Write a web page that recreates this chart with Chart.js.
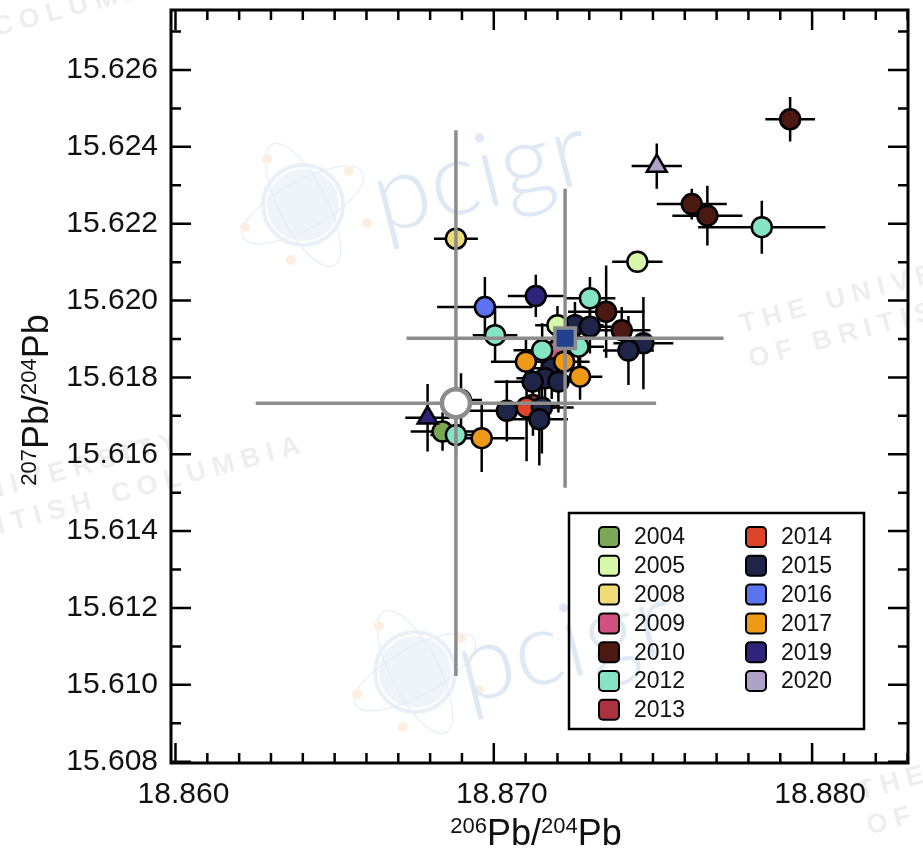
<!DOCTYPE html>
<html>
<head>
<meta charset="utf-8">
<script src="https://cdn.jsdelivr.net/npm/chart.js@4.4.1/dist/chart.umd.min.js"></script>
<style>
  html, body { margin: 0; padding: 0; background: #fff; }
  #pbChart { display: block; }
</style>
</head>
<body>
<canvas id="pbChart" width="923" height="851"></canvas>
<script>
// --- data -------------------------------------------------------------
const years = ['2004','2005','2008','2009','2010','2012','2013','2014','2015','2016','2017','2019','2020'];
const yearColors = ['#7aa856','#d6f8a8','#f0dc76','#d2507f','#4b1912','#84e4c3','#ab3340','#de4428','#1e2548','#5b73f1','#ee9a16','#2f247a','#b0a1c9'];
// bottom -> top drawing order
const stackOrder = ['2013','2009','2014','2015','2004','2010','2005','2012','2017','2016','2019','2008','2020'];

const ptYear  = ['2010','2020','2010','2010','2012','2008','2005','2016','2019','2012',
                 '2010','2005','2015','2015','2010','2012','2015','2015','2012','2012',
                 '2009','2013','2017','2017','2015','2017','2015','2015','2015','2015',
                 '2014','2015','2015','2015','2019','2004','2012','2017'];
const ptPb206 = [18.87931,18.87512,18.87622,18.87671,18.87842,18.86881,18.87451,18.86972,18.87132,18.87302,
                 18.87353,18.87200,18.87255,18.87302,18.87402,18.87004,18.87470,18.87423,18.87266,18.87152,
                 18.87189,18.87123,18.87101,18.87221,18.87182,18.87271,18.87161,18.87122,18.87203,18.87041,
                 18.87103,18.87151,18.87143,18.86897,18.86792,18.86839,18.86881,18.86962];
const ptPb207 = [15.62472,15.62350,15.62251,15.62221,15.62191,15.62161,15.62101,15.61983,15.62012,15.62006,
                 15.61971,15.61936,15.61936,15.61932,15.61923,15.61910,15.61889,15.61870,15.61880,15.61871,
                 15.61867,15.61728,15.61841,15.61841,15.61824,15.61802,15.61798,15.61789,15.61789,15.61713,
                 15.61722,15.61722,15.61691,15.61741,15.61695,15.61659,15.61650,15.61642];
const ptErr206 = [0.00078,0.00079,0.0011,0.0011,0.0020,0.00069,0.00079,0.0015,0.00088,0.0008,
                  0.0012,0.0007,0.0009,0.0009,0.0009,0.0007,0.00094,0.0008,0.0008,0.0009,
                  0.0008,0.0008,0.0011,0.0008,0.0008,0.0007,0.0009,0.0012,0.0009,0.0012,
                  0.0009,0.0010,0.0009,0.00066,0.0007,0.0010,0.0008,0.00135];
const ptErr207 = [0.00058,0.00059,0.0004,0.00078,0.00069,0.0002,0.0002,0.00078,0.00055,0.00055,
                  0.0012,0.0005,0.0006,0.0007,0.0006,0.0007,0.0012,0.0009,0.0006,0.0007,
                  0.0006,0.0008,0.0006,0.0007,0.0008,0.0006,0.0009,0.0008,0.0008,0.0008,
                  0.0014,0.0012,0.0012,0.0007,0.00088,0.0005,0.0005,0.00088];
const ptShape = ['circle','triangle','circle','circle','circle','circle','circle','circle','circle','circle',
                 'circle','circle','circle','circle','circle','circle','circle','circle','circle','circle',
                 'circle','circle','circle','circle','circle','circle','circle','circle','circle','circle',
                 'circle','circle','circle','circle','triangle','circle','circle','circle'];

// reference values (big grey crosses)
const refPb206 = [18.86881, 18.87224];
const refPb207 = [15.61733, 15.61902];
const refErr206 = [0.00629, 0.00498];
const refErr207 = [0.0071, 0.00389];

const xTickLabels = ['18.860','18.870','18.880'];
const yTickLabels = ['15.608','15.610','15.612','15.614','15.616','15.618','15.620','15.622','15.624','15.626'];

const FONT = '"Liberation Sans", Arial, Helvetica, sans-serif';
const AREA = { left: 171, top: 10, right: 908, bottom: 763 };

// --- datasets -----------------------------------------------------------
const datasets = years.map((yr, i) => {
  const idx = ptYear.map((y, k) => y === yr ? k : -1).filter(k => k >= 0);
  return {
    label: yr,
    data: idx.map(k => ({ x: ptPb206[k], y: ptPb207[k] })),
    xErr: idx.map(k => ptErr206[k]),
    yErr: idx.map(k => ptErr207[k]),
    pointStyle: idx.map(k => ptShape[k]),
    pointRadius: idx.map(k => ptShape[k] === 'triangle' ? 11.5 : 10),
    backgroundColor: yearColors[i],
    borderColor: '#000',
    borderWidth: 2.5,
    order: stackOrder.length - stackOrder.indexOf(yr),
    inLegend: true
  };
});
datasets.push({
  label: 'ref-a',
  data: [{ x: refPb206[0], y: refPb207[0] }],
  xErr: [refErr206[0]], yErr: [refErr207[0]],
  pointStyle: 'circle', pointRadius: 14,
  backgroundColor: '#ffffff', borderColor: '#8c8c8c', borderWidth: 4.5,
  order: -1, isRef: true
});
datasets.push({
  label: 'ref-b',
  data: [{ x: refPb206[1], y: refPb207[1] }],
  xErr: [refErr206[1]], yErr: [refErr207[1]],
  pointStyle: 'rect', pointRadius: 14.5,
  backgroundColor: '#21418f', borderColor: '#8c8c8c', borderWidth: 3.5,
  order: -2, isRef: true
});

// --- plugins ------------------------------------------------------------
// pin the plot box where the figure has it
const pinArea = {
  id: 'pinArea',
  afterLayout(chart) {
    const xs = chart.scales.x, ys = chart.scales.y, a = chart.chartArea;
    Object.assign(a, AREA);
    a.width = AREA.right - AREA.left; a.height = AREA.bottom - AREA.top;
    ys.top = AREA.top; ys.bottom = AREA.bottom; ys.height = a.height;
    ys.left = 0; ys.right = AREA.left; ys.width = AREA.left;
    xs.left = AREA.left; xs.right = AREA.right; xs.width = a.width;
    xs.top = AREA.bottom; xs.bottom = chart.height; xs.height = chart.height - AREA.bottom;
    ys.configure(); xs.configure();
  }
};

function drawBars(chart, i) {
  const ds = chart.data.datasets[i];
  const xs = chart.scales.x, ys = chart.scales.y, ctx = chart.ctx;
  ctx.save();
  ctx.strokeStyle = ds.isRef ? '#8c8c8c' : '#000';
  ctx.lineWidth = ds.isRef ? 3.5 : 2.5;
  ctx.lineCap = 'butt';
  ds.data.forEach((p, k) => {
    const px = xs.getPixelForValue(p.x), py = ys.getPixelForValue(p.y);
    ctx.beginPath();
    ctx.moveTo(xs.getPixelForValue(p.x - ds.xErr[k]), py);
    ctx.lineTo(xs.getPixelForValue(p.x + ds.xErr[k]), py);
    ctx.moveTo(px, ys.getPixelForValue(p.y - ds.yErr[k]));
    ctx.lineTo(px, ys.getPixelForValue(p.y + ds.yErr[k]));
    ctx.stroke();
  });
  ctx.restore();
}

const errorBars = {
  id: 'errorBars',
  beforeDatasetsDraw(chart) {
    chart.data.datasets.forEach((ds, i) => { if (!ds.isRef) drawBars(chart, i); });
  },
  beforeDatasetDraw(chart, args) {
    if (chart.data.datasets[args.index].isRef) drawBars(chart, args.index);
  }
};

function tileText(ctx, x, y) {
  ctx.save();
  ctx.translate(x, y);
  ctx.rotate(-15 * Math.PI / 180);
  ctx.fillText('THE UNIVERSITY', 0, 0);
  ctx.fillText('OF BRITISH COLUMBIA', 0, 36);
  ctx.restore();
}
function logo(ctx, x, y) {
  ctx.save();
  ctx.strokeStyle = '#e8f0f8';
  ctx.lineWidth = 4;
  ctx.beginPath(); ctx.arc(x, y, 40, 0, Math.PI * 2); ctx.stroke();
  ctx.fillStyle = '#eef4fa';
  ctx.beginPath(); ctx.arc(x, y, 36, 0, Math.PI * 2); ctx.fill();
  ctx.lineWidth = 1.2;
  ctx.strokeStyle = '#e6eef7';
  ctx.beginPath(); ctx.ellipse(x, y, 68, 24, -0.5, 0, Math.PI * 2); ctx.stroke();
  ctx.beginPath(); ctx.ellipse(x, y, 68, 24, 1.1, 0, Math.PI * 2); ctx.stroke();
  ctx.fillStyle = '#fcefe2';
  [[-58, 22], [46, -34], [-12, 55], [64, 18], [-36, -46]].forEach(d => {
    ctx.beginPath(); ctx.arc(x + d[0], y + d[1], 5, 0, Math.PI * 2); ctx.fill();
  });
  ctx.restore();
}

const watermark = {
  id: 'watermark',
  beforeDraw(chart) {
    const ctx = chart.ctx;
    ctx.save();
    ctx.fillStyle = '#fff';
    ctx.fillRect(0, 0, chart.width, chart.height);
    ctx.fillStyle = 'rgba(120,120,145,0.13)';
    ctx.font = 'bold 27px ' + FONT;
    ctx.letterSpacing = '7px';
    [[742, 333], [860, 800], [-125, 530], [-243, 63]].forEach(p => tileText(ctx, p[0], p[1]));
    ctx.letterSpacing = '0px';
    logo(ctx, 303, 205);
    logo(ctx, 415, 672);
    ctx.fillStyle = '#dfe9f5';
    ctx.font = '300 104px Lato, "Open Sans", sans-serif';
    [[382, 234], [466, 704]].forEach(p => {
      ctx.save();
      ctx.translate(p[0], p[1]);
      ctx.rotate(-14 * Math.PI / 180);
      ctx.fillText('pcigr', 0, 0);
      ctx.restore();
    });
    ctx.restore();
  }
};

const frameTicks = {
  id: 'frameTicks',
  afterDraw(chart) {
    const ctx = chart.ctx, a = chart.chartArea;
    const xs = chart.scales.x, ys = chart.scales.y;
    ctx.save();
    ctx.strokeStyle = '#000';
    ctx.lineWidth = 2.5;
    ctx.beginPath();
    for (let k = 18860; k <= 18883; k++) {
      const px = xs.getPixelForValue(k / 1000);
      const len = k % 10 === 0 ? 20 : 10;
      ctx.moveTo(px, a.bottom); ctx.lineTo(px, a.bottom - len);
      ctx.moveTo(px, a.top); ctx.lineTo(px, a.top + len);
    }
    for (let k = 15608; k <= 15627; k++) {
      const py = ys.getPixelForValue(k / 1000);
      const len = k % 2 === 0 ? 20 : 10;
      ctx.moveTo(a.left, py); ctx.lineTo(a.left + len, py);
      ctx.moveTo(a.right, py); ctx.lineTo(a.right - len, py);
    }
    ctx.stroke();
    ctx.lineWidth = 3;
    ctx.strokeRect(a.left, a.top, a.right - a.left, a.bottom - a.top);
    ctx.restore();
  }
};

function supText(ctx, parts, cx, baseline) {
  const widths = parts.map(p => { ctx.font = p[1] + 'px ' + FONT; return ctx.measureText(p[0]).width; });
  let x = cx - widths.reduce((s, w) => s + w, 0) / 2;
  parts.forEach((p, i) => {
    ctx.font = p[1] + 'px ' + FONT;
    ctx.fillText(p[0], x, baseline - p[2]);
    x += widths[i];
  });
}

const axisTitles = {
  id: 'axisTitles',
  afterDraw(chart) {
    const ctx = chart.ctx;
    ctx.save();
    ctx.fillStyle = '#111';
    ctx.textBaseline = 'alphabetic';
    ctx.textAlign = 'left';
    supText(ctx, [['206', 22, 12], ['Pb/', 36, 0], ['204', 22, 12], ['Pb', 36, 0]], 536, 845);
    ctx.translate(48, 400);
    ctx.rotate(-Math.PI / 2);
    supText(ctx, [['207', 22, 12], ['Pb/', 36, 0], ['204', 22, 12], ['Pb', 36, 0]], 0, 0);
    ctx.restore();
  }
};

const legendBox = {
  id: 'legendBox',
  afterDraw(chart) {
    const ctx = chart.ctx;
    const items = chart.data.datasets.filter(d => d.inLegend);
    ctx.save();
    ctx.lineWidth = 2.5;
    ctx.strokeStyle = '#000';
    ctx.strokeRect(569, 513, 295, 216);
    ctx.font = '23px ' + FONT;
    ctx.textBaseline = 'middle';
    items.forEach((d, i) => {
      const col = i < 7 ? 0 : 1, row = i < 7 ? i : i - 7;
      const sx = col ? 746 : 599, cy = 537 + row * 28.8;
      ctx.beginPath();
      ctx.roundRect(sx, cy - 10, 20, 20, 4);
      ctx.fillStyle = d.backgroundColor;
      ctx.fill();
      ctx.lineWidth = 2;
      ctx.stroke();
      ctx.fillStyle = '#111';
      ctx.fillText(d.label, sx + 35, cy + 1);
    });
    ctx.restore();
  }
};

// --- chart ------------------------------------------------------------------
new Chart(document.getElementById('pbChart'), {
  type: 'scatter',
  data: { datasets: datasets },
  options: {
    responsive: false,
    animation: false,
    layout: { padding: { top: 10, right: 15, left: 0, bottom: 0 } },
    plugins: { legend: { display: false }, tooltip: { enabled: false } },
    scales: {
      x: {
        type: 'linear', min: 18.859859, max: 18.883013,
        grid: { display: false, drawTicks: false }, border: { display: false },
        afterBuildTicks: s => { s.ticks = xTickLabels.map(v => ({ value: parseFloat(v) })); },
        ticks: {
          callback: v => xTickLabels.find(t => Math.abs(parseFloat(t) - v) < 1e-6),
          font: { family: FONT, size: 30 }, color: '#111',
          padding: 14, labelOffset: 8, maxRotation: 0, autoSkip: false
        },
        afterFit: s => { s.height = 88; }
      },
      y: {
        type: 'linear', min: 15.607966, max: 15.627561,
        grid: { display: false, drawTicks: false }, border: { display: false },
        afterBuildTicks: s => { s.ticks = yTickLabels.map(v => ({ value: parseFloat(v) })); },
        ticks: {
          callback: v => yTickLabels.find(t => Math.abs(parseFloat(t) - v) < 1e-6),
          font: { family: FONT, size: 30 }, color: '#111',
          padding: 13, autoSkip: false
        },
        afterFit: s => { s.width = 171; }
      }
    }
  },
  plugins: [pinArea, watermark, errorBars, frameTicks, axisTitles, legendBox]
});
</script>
</body>
</html>
